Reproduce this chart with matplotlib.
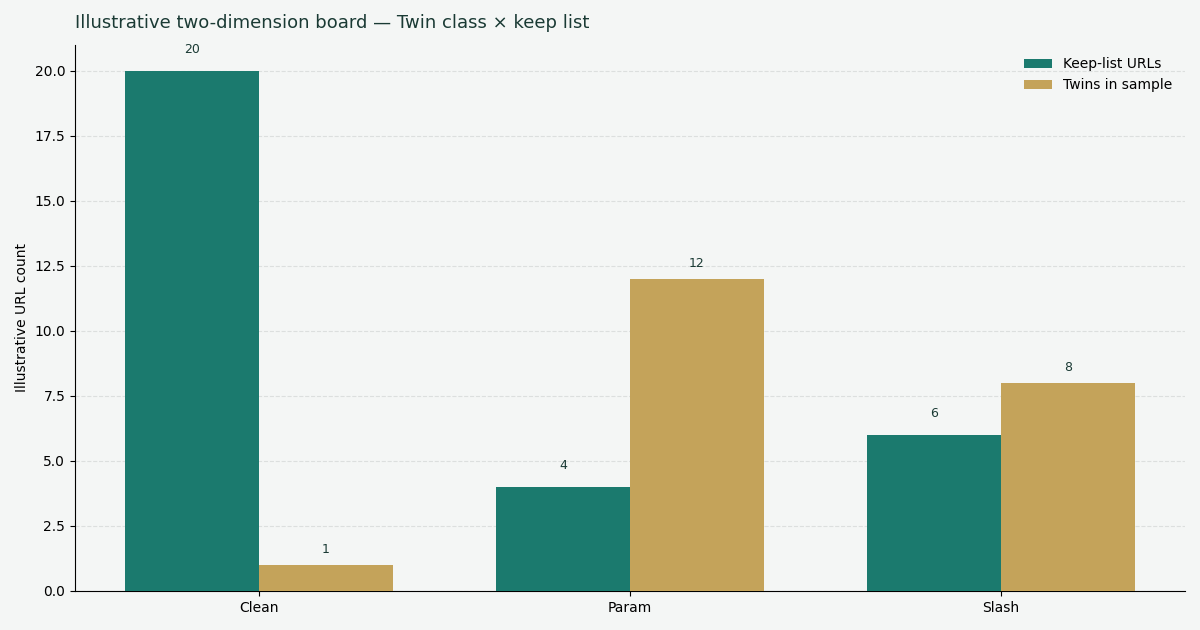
import numpy as np
import matplotlib.pyplot as plt

categories = ['Clean', 'Param', 'Slash']
keep_list = [20, 4, 6]
twins = [1, 12, 8]

bg = '#f4f6f5'
teal = '#1b7a6e'
tan = '#c4a35a'
ink = '#1a3a34'

fig, ax = plt.subplots(figsize=(12, 6.3), dpi=100)
fig.patch.set_facecolor(bg)
ax.set_facecolor(bg)

x = np.arange(len(categories))
w = 0.36
b1 = ax.bar(x - w / 2, keep_list, w, color=teal, label='Keep-list URLs', zorder=3)
b2 = ax.bar(x + w / 2, twins, w, color=tan, label='Twins in sample', zorder=3)

# label offsets differ slightly between the two series in the reference
for bars, off in ((b1, 10.6), (b2, 6.3)):
    for rect in bars:
        h = rect.get_height()
        ax.annotate(f'{h:g}', (rect.get_x() + rect.get_width() / 2, h),
                    xytext=(0, off), textcoords='offset points',
                    ha='center', va='bottom', fontsize=9, color=ink)

ax.set_xticks(x)
ax.set_xticklabels(categories)
ax.set_ylim(0, 21)
ax.set_ylabel('Illustrative URL count')
ax.set_title('Illustrative two-dimension board \u2014 Twin class \u00d7 keep list',
             loc='left', fontsize=13, color=ink, pad=12)
ax.grid(axis='y', linestyle='--', color='#dcdfde', linewidth=0.8, zorder=0)
ax.spines['top'].set_visible(False)
ax.spines['right'].set_visible(False)
ax.legend(frameon=False, loc='upper right')

fig.subplots_adjust(left=0.0625, right=0.9875, top=0.9286, bottom=0.062)
fig.savefig('out.png', facecolor=bg)
